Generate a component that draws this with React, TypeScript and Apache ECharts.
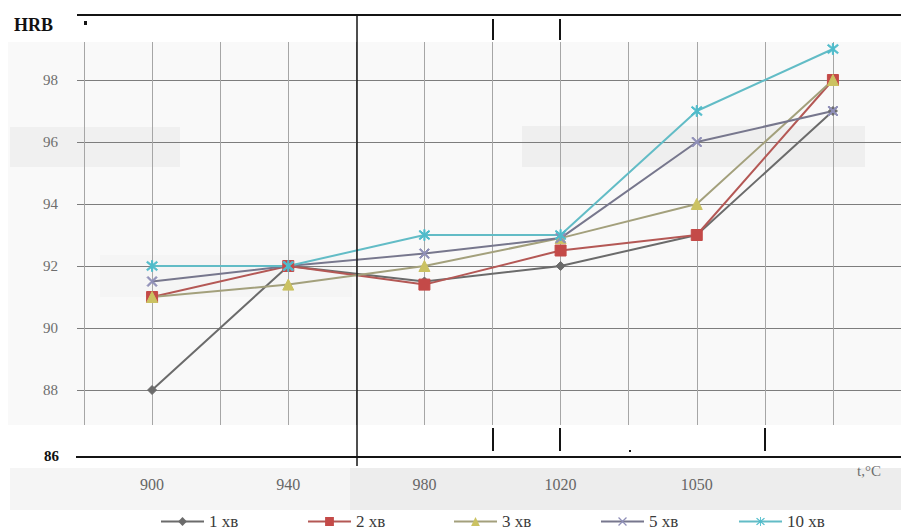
import React, { useEffect, useRef } from "react";
import * as echarts from "echarts";

// Temperature categories (°C); the last column carries no label
const temperatures = ["900", "940", "980", "1020", "1050", ""];

// Hardness HRB for each holding time
const hold1 = [88, 92, 91.5, 92, 93, 97];
const hold2 = [91, 92, 91.4, 92.5, 93, 98];
const hold3 = [91, 91.4, 92, 92.9, 94, 98];
const hold5 = [91.5, 92, 92.4, 92.9, 96, 97];
const hold10 = [92, 92, 93, 93, 97, 99];

const seriesNames = ["1 хв", "2 хв", "3 хв", "5 хв", "10 хв"];

const SERIF = "'Liberation Serif', 'DejaVu Serif', serif";

const CROSS = "path://M1,0 L5,4 L9,0 L10,1 L6,5 L10,9 L9,10 L5,6 L1,10 L0,9 L4,5 L0,1 Z";
const STAR =
  "path://M1,0 L5,4 L9,0 L10,1 L6,5 L10,9 L9,10 L5,6 L1,10 L0,9 L4,5 L0,1 Z M4.5,-1 L5.5,-1 L5.5,11 L4.5,11 Z";

export default function App() {
  const ref = useRef<HTMLDivElement>(null);

  useEffect(() => {
    if (!ref.current) return;
    const chart = echarts.init(ref.current, undefined, { renderer: "svg" });

    const legendX = [160, 307, 453, 600, 738];

    const mkSeries = (
      name: string,
      data: number[],
      line: string,
      marker: string,
      symbol: string,
      size: number
    ) => ({
      name,
      type: "line",
      xAxisIndex: 0,
      yAxisIndex: 0,
      data,
      symbol,
      symbolSize: size,
      lineStyle: { color: line, width: 2 },
      itemStyle: { color: marker, borderColor: marker },
      z: 5,
    });

    const blackLine = (x1: number, y1: number, x2: number, y2: number, w = 2) => ({
      type: "line",
      z: 100,
      shape: { x1, y1, x2, y2 },
      style: { stroke: "#141414", lineWidth: w },
    });

    const band = (x: number, y: number, w: number, h: number, fill: string) => ({
      type: "rect",
      z: -10,
      shape: { x, y, width: w, height: h },
      style: { fill },
    });

    chart.setOption({
      animation: false,
      backgroundColor: "#ffffff",
      textStyle: { fontFamily: SERIF },
      grid: [
        // data
        { left: 84, right: 0, top: 18, bottom: 78 },
        // horizontal grid lines and value labels
        { left: 77, right: 0, top: 18, bottom: 78 },
        // vertical grid lines
        { left: 84, right: 0, top: 42, bottom: 105 },
      ],
      xAxis: [
        {
          gridIndex: 0,
          type: "category",
          data: temperatures,
          boundaryGap: true,
          axisLine: { show: false },
          axisTick: { show: false },
          splitLine: { show: false },
          axisLabel: {
            margin: 24,
            color: "#666",
            fontFamily: SERIF,
            fontSize: 16,
          },
        },
        {
          gridIndex: 1,
          type: "value",
          min: 0,
          max: 1,
          show: false,
        },
        {
          gridIndex: 2,
          type: "value",
          min: 0,
          max: 12,
          interval: 1,
          axisLine: { show: false },
          axisTick: { show: false },
          axisLabel: { show: false },
          splitLine: { show: true, lineStyle: { color: "#a6a6a6", width: 1 } },
        },
      ],
      yAxis: [
        {
          gridIndex: 0,
          type: "value",
          min: 86,
          max: 100,
          interval: 2,
          axisLine: { show: false },
          axisTick: { show: false },
          axisLabel: { show: false },
          splitLine: { show: false },
        },
        {
          gridIndex: 1,
          type: "value",
          min: 86,
          max: 100,
          interval: 2,
          axisLine: { show: false },
          axisTick: { show: false },
          axisLabel: {
            margin: 19,
            color: "#6e6e6e",
            fontFamily: SERIF,
            fontSize: 15,
            formatter: (v: number) => (v === 86 || v === 100 ? "" : String(v)),
          },
          splitLine: {
            show: true,
            lineStyle: {
              width: 1.2,
              color: [
                "rgba(0,0,0,0)",
                "#7d7d7d",
                "#7d7d7d",
                "#7d7d7d",
                "#7d7d7d",
                "#7d7d7d",
                "#7d7d7d",
                "rgba(0,0,0,0)",
              ],
            },
          },
        },
        {
          gridIndex: 2,
          type: "value",
          show: false,
        },
      ],
      legend: seriesNames.map((n, i) => ({
        data: [n],
        left: legendX[i],
        top: 513,
        itemWidth: 43,
        itemHeight: 11,
        itemGap: 0,
        padding: 0,
        textStyle: { fontFamily: SERIF, fontSize: 17, color: "#3a3a3a" },
      })),
      series: [
        mkSeries(seriesNames[0], hold1, "#6b6b6b", "#6b6b6b", "diamond", 9),
        mkSeries(seriesNames[1], hold2, "#b45855", "#c44a48", "rect", 11),
        mkSeries(seriesNames[2], hold3, "#a3a07c", "#cbc262", "triangle", 11),
        mkSeries(seriesNames[3], hold5, "#77778d", "#8f8fb8", CROSS, 10),
        mkSeries(seriesNames[4], hold10, "#62bcc6", "#4fbccb", STAR, 11),
      ],
      graphic: [
        band(8, 42, 893, 383, "#f9f9f9"),
        band(10, 127, 170, 40, "#f0f0f0"),
        band(522, 126, 343, 41, "#efefef"),
        band(100, 255, 252, 42, "#f5f5f5"),
        band(10, 468, 340, 42, "#f5f5f5"),
        band(350, 468, 551, 42, "#ededed"),
        blackLine(77, 15, 901, 15),
        blackLine(76, 457, 901, 457),
        blackLine(357, 15, 357, 466, 1.5),
        blackLine(493, 428, 493, 451),
        blackLine(560, 428, 560, 451),
        blackLine(765, 428, 765, 451),
        blackLine(493, 19, 493, 40),
        blackLine(560, 19, 560, 40),
        {
          type: "rect",
          z: 100,
          shape: { x: 84, y: 21, width: 3, height: 4 },
          style: { fill: "#141414" },
        },
        {
          type: "rect",
          z: 100,
          shape: { x: 629, y: 450, width: 2, height: 2 },
          style: { fill: "#141414" },
        },
        {
          type: "text",
          z: 100,
          left: 14,
          top: 16,
          style: {
            text: "HRB",
            fill: "#111",
            font: `bold 18px ${SERIF}`,
          },
        },
        {
          type: "text",
          z: 100,
          left: 44,
          top: 448,
          style: {
            text: "86",
            fill: "#111",
            font: `bold 15px ${SERIF}`,
          },
        },
        {
          type: "text",
          z: 100,
          left: 857,
          top: 463,
          style: {
            text: "t,°C",
            fill: "#6e6e6e",
            font: `15px ${SERIF}`,
          },
        },
      ],
    });

    return () => chart.dispose();
  }, []);

  return (
    <div
      ref={ref}
      style={{ position: "fixed", left: 0, top: 0, width: 901, height: 530 }}
    />
  );
}
